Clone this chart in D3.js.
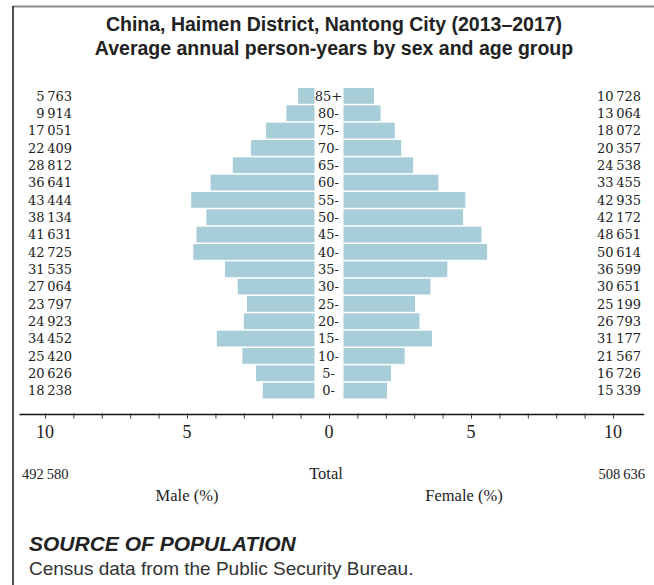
<!DOCTYPE html>
<html>
<head>
<meta charset="utf-8">
<script src="https://cdn.jsdelivr.net/npm/d3@7"></script>
<style>
  body { margin: 0; background: #fff; }
  svg { display: block; }
</style>
</head>
<body>
<div id="graf"></div>
<script>
// age groups, top to bottom
const edades = ["85+", "80-", "75-", "70-", "65-", "60-", "55-", "50-", "45-",
  "40-", "35-", "30-", "25-", "20-", "15-", "10-", "5-", "0-"];
const hombres = [5763, 9914, 17051, 22409, 28812, 36641, 43444, 38134, 41631,
  42725, 31535, 27064, 23797, 24923, 34452, 25420, 20626, 18238];
const mujeres = [10728, 13064, 18072, 20357, 24538, 33455, 42935, 42172, 48651,
  50614, 36599, 30651, 25199, 26793, 31177, 21567, 16726, 15339];
const totalHombres = 492580;
const totalMujeres = 508636;
const ticksEje = d3.range(-10, 11);
const etiquetasEje = [-10, -5, 0, 5, 10];

const ancho_total = 654;
const alto_total = 585;
const centro = 329;
const hueco = 14.5;

const svg = d3.select("#graf")
  .append("svg")
  .attr("width", ancho_total)
  .attr("height", alto_total);

// frame
svg.append("line")
  .attr("x1", 13).attr("x2", ancho_total).attr("y1", 6.5).attr("y2", 6.5)
  .attr("stroke", "#8a8a8a").attr("stroke-width", 2);
svg.append("line")
  .attr("x1", 13).attr("x2", 13).attr("y1", 6).attr("y2", alto_total)
  .attr("stroke", "#222").attr("stroke-width", 1.6);

const titulo = svg.append("text")
  .attr("text-anchor", "middle")
  .style("font-family", "'Liberation Sans', Arial, sans-serif")
  .style("font-weight", "bold")
  .style("font-size", "19.5px")
  .attr("fill", "#222");
titulo.append("tspan").attr("x", 334).attr("y", 31)
  .text("China, Haimen District, Nantong City (2013\u20132017)");
titulo.append("tspan").attr("x", 334).attr("y", 55)
  .text("Average annual person-years by sex and age group");

const total = totalHombres + totalMujeres;
const datos = edades.map((e, i) => ({
  edad: e,
  h: hombres[i],
  m: mujeres[i],
  ph: hombres[i] / total * 100,
  pm: mujeres[i] / total * 100,
}));

const fmt = d3.formatLocale({ decimal: ".", thousands: "\u2009", grouping: [3], currency: ["", ""] }).format(",d");

// scales
const x = d3.scaleLinear().domain([-10, 10]).range([centro - 284, centro + 284]);
const w = d3.scaleLinear().domain([0, 10]).range([0, 284]);
const y = d3.scaleBand().domain(edades).range([88, 398.5]).paddingInner(0.09);

const colorBarra = "#a7cdd9";

const g = svg.append("g");

g.selectAll("rect.h")
  .data(datos)
  .enter()
  .append("rect")
  .attr("class", "h")
  .attr("x", d => centro - hueco - w(d.ph))
  .attr("y", d => y(d.edad))
  .attr("width", d => w(d.ph))
  .attr("height", y.bandwidth())
  .attr("fill", colorBarra);

g.selectAll("rect.m")
  .data(datos)
  .enter()
  .append("rect")
  .attr("class", "m")
  .attr("x", centro + hueco)
  .attr("y", d => y(d.edad))
  .attr("width", d => w(d.pm))
  .attr("height", y.bandwidth())
  .attr("fill", colorBarra);

const serif = "'DejaVu Serif', serif";

g.selectAll("text.edad")
  .data(datos)
  .enter()
  .append("text")
  .attr("class", "edad")
  .attr("x", centro - 0.5)
  .attr("y", d => y(d.edad) + y.bandwidth() / 2)
  .attr("dy", "0.36em")
  .attr("text-anchor", "middle")
  .style("font-family", serif)
  .style("font-size", "13px")
  .attr("fill", "#222")
  .text(d => d.edad);

g.selectAll("text.nh")
  .data(datos)
  .enter()
  .append("text")
  .attr("class", "nh")
  .attr("x", 72)
  .attr("y", d => y(d.edad) + y.bandwidth() / 2)
  .attr("dy", "0.36em")
  .attr("text-anchor", "end")
  .style("font-family", serif)
  .style("font-size", "13px")
  .attr("fill", "#222")
  .text(d => fmt(d.h));

g.selectAll("text.nm")
  .data(datos)
  .enter()
  .append("text")
  .attr("class", "nm")
  .attr("x", 641)
  .attr("y", d => y(d.edad) + y.bandwidth() / 2)
  .attr("dy", "0.36em")
  .attr("text-anchor", "end")
  .style("font-family", serif)
  .style("font-size", "13px")
  .attr("fill", "#222")
  .text(d => fmt(d.m));

// axis
const ejeY = 414.5;
svg.append("line")
  .attr("x1", x(-10.9)).attr("x2", x(11.1))
  .attr("y1", ejeY).attr("y2", ejeY)
  .attr("stroke", "#111").attr("stroke-width", 1.5);

const eje = svg.append("g")
  .attr("transform", `translate(0, ${ejeY})`)
  .call(d3.axisBottom(x).tickValues(ticksEje).tickSize(4).tickFormat(""));
eje.select(".domain").remove();
eje.selectAll(".tick line").attr("stroke", "#333").attr("y1", -1);

svg.selectAll("text.tick-lab")
  .data(etiquetasEje)
  .enter()
  .append("text")
  .attr("class", "tick-lab")
  .attr("x", d => x(d))
  .attr("y", 438)
  .attr("text-anchor", "middle")
  .style("font-family", "'Liberation Serif', serif")
  .style("font-size", "18px")
  .attr("fill", "#222")
  .text(d => Math.abs(d));

const pie = svg.append("g")
  .style("font-family", "'Liberation Serif', serif")
  .style("font-size", "16.5px")
  .attr("fill", "#222");
pie.append("text").attr("x", 22).attr("y", 479).style("font-size", "14.5px").text(fmt(totalHombres));
pie.append("text").attr("x", centro - 3).attr("y", 479).attr("text-anchor", "middle").text("Total");
pie.append("text").attr("x", 645).attr("y", 479).attr("text-anchor", "end").style("font-size", "14.5px").text(fmt(totalMujeres));
pie.append("text").attr("x", 187).attr("y", 501).attr("text-anchor", "middle").text("Male (%)");
pie.append("text").attr("x", 464).attr("y", 501).attr("text-anchor", "middle").text("Female (%)");

// source
svg.append("text")
  .attr("x", 29).attr("y", 551)
  .style("font-family", "'Liberation Sans', Arial, sans-serif")
  .style("font-weight", "bold")
  .style("font-style", "italic")
  .style("font-size", "21px")
  .attr("fill", "#222")
  .text("SOURCE OF POPULATION");
svg.append("text")
  .attr("x", 29).attr("y", 575)
  .style("font-family", "'Liberation Sans', Arial, sans-serif")
  .style("font-size", "19px")
  .attr("fill", "#333")
  .text("Census data from the Public Security Bureau.");
</script>
</body>
</html>
